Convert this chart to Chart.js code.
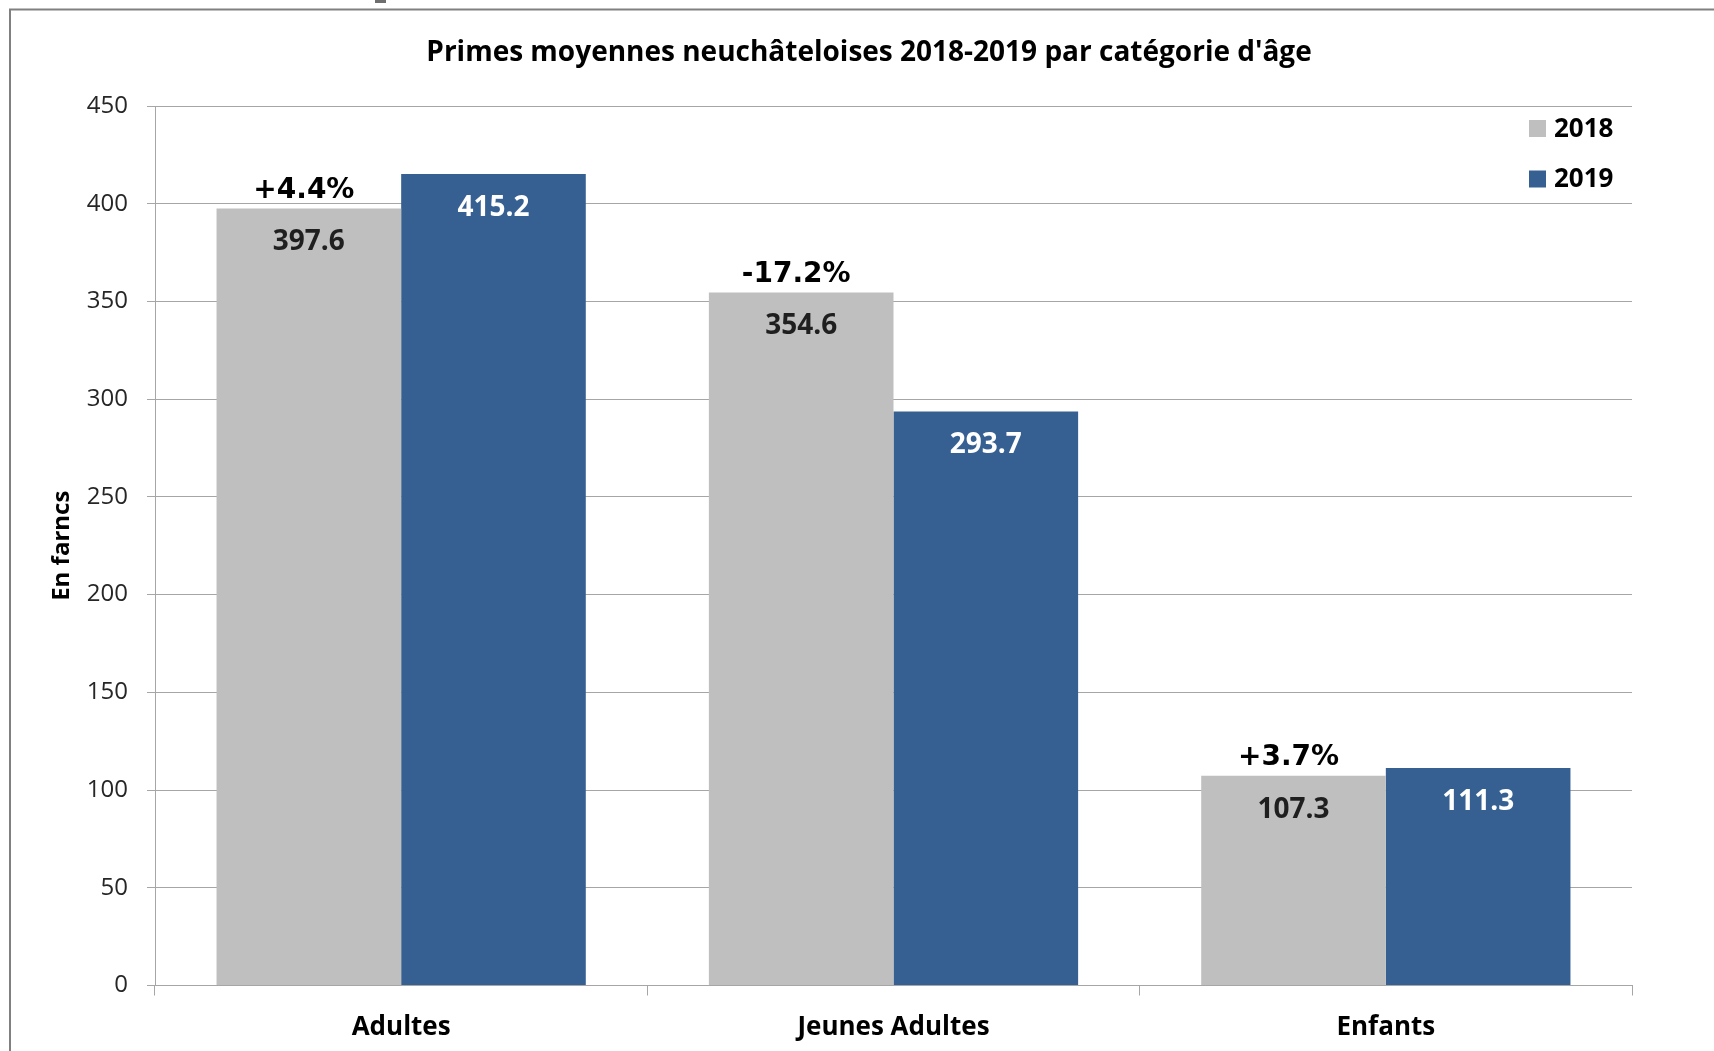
<!DOCTYPE html>
<html>
<head>
<meta charset="utf-8">
<title>Primes moyennes neuchâteloises 2018-2019</title>
<script src="https://cdn.jsdelivr.net/npm/chart.js@4.4.1/dist/chart.umd.min.js"></script>
<style>
  html, body { margin: 0; padding: 0; background: #fff; overflow: hidden; }
  #wrap { position: relative; width: 1714px; height: 1051px; }
</style>
</head>
<body>
<div id="wrap"><canvas id="chart"></canvas></div>
<script>
const chartTitle = "Primes moyennes neuchâteloises 2018-2019 par catégorie d'âge";
const yTitle = 'En farncs';
const categories = ['Adultes', 'Jeunes Adultes', 'Enfants'];
const primes2018 = [397.6, 354.6, 107.3];
const primes2019 = [415.2, 293.7, 111.3];
const changeLabels = ['+4.4%', '-17.2%', '+3.7%'];
const yTicks = [0, 50, 100, 150, 200, 250, 300, 350, 400, 450];

const FONT = '"Open Sans", "Liberation Sans", sans-serif';
const GRID = '#a6a6a6';

// white background, grey frame and title
const framePlugin = {
    id: 'frame',
    beforeDraw(chart) {
        const ctx = chart.ctx;
        ctx.save();
        ctx.fillStyle = '#fff';
        ctx.fillRect(0, 0, chart.width, chart.height);
        ctx.strokeStyle = '#808080';
        ctx.lineWidth = 2;
        ctx.beginPath();
        ctx.moveTo(10, chart.height);
        ctx.lineTo(10, 9.5);
        ctx.lineTo(chart.width, 9.5);
        ctx.stroke();
        ctx.fillStyle = '#6e6e6e';
        ctx.fillRect(375, 0, 11, 3);
        ctx.fillStyle = '#000';
        ctx.font = 'bold 28px ' + FONT;
        ctx.textAlign = 'center';
        ctx.textBaseline = 'middle';
        ctx.fillText(chartTitle, 869, 53);
        ctx.restore();
    }
};

// value labels inside bars, change labels above the 2018 bars
const labelPlugin = {
    id: 'barLabels',
    afterDatasetsDraw(chart) {
        const ctx = chart.ctx;
        ctx.save();
        ctx.textAlign = 'center';
        ctx.textBaseline = 'middle';
        ctx.font = 'bold 28px ' + FONT;
        chart.data.datasets.forEach((ds, di) => {
            const meta = chart.getDatasetMeta(di);
            ctx.fillStyle = di === 0 ? '#1f1f1f' : '#ffffff';
            meta.data.forEach((bar, i) => {
                ctx.fillText(ds.data[i].toFixed(1), bar.x, bar.y + 34);
            });
        });
        const meta0 = chart.getDatasetMeta(0);
        ctx.fillStyle = '#000';
        ctx.font = 'bold 28px "DejaVu Sans", sans-serif';
        meta0.data.forEach((bar, i) => {
            ctx.fillText(changeLabels[i], bar.x - 5, bar.y - 18);
        });
        ctx.restore();
    }
};

// legend drawn inside the plot, top right
const legendPlugin = {
    id: 'cornerLegend',
    afterDraw(chart) {
        const ctx = chart.ctx;
        ctx.save();
        ctx.font = 'bold 26px ' + FONT;
        ctx.textBaseline = 'middle';
        ctx.textAlign = 'left';
        chart.data.datasets.forEach((ds, i) => {
            const y = 128.5 + i * 50.5;
            ctx.fillStyle = ds.backgroundColor;
            ctx.fillRect(1529, y - 8.5, 17, 17);
            ctx.fillStyle = '#000';
            ctx.fillText(ds.label, 1554, y + 1);
        });
        ctx.restore();
    }
};

new Chart(document.getElementById('chart'), {
    type: 'bar',
    data: {
        labels: categories,
        datasets: [
            { label: '2018', data: primes2018, backgroundColor: '#bfbfbf' },
            { label: '2019', data: primes2019, backgroundColor: '#366092' }
        ]
    },
    options: {
        responsive: true,
        maintainAspectRatio: false,
        animation: false,
        categoryPercentage: 0.75,
        barPercentage: 1.0,
        layout: { padding: { top: 106, right: 82, bottom: 0, left: 0 } },
        plugins: {
            legend: { display: false },
            title: { display: false },
            tooltip: { enabled: false }
        },
        scales: {
            x: {
                grid: { drawOnChartArea: false, offset: true, color: GRID, tickLength: 10 },
                border: { color: GRID },
                ticks: { color: '#000', font: { family: FONT, size: 26, weight: 'bold' }, padding: 16 },
                afterFit(scale) { scale.height = 65.5; }
            },
            y: {
                min: 0,
                max: 450,
                afterBuildTicks(scale) { scale.ticks = yTicks.map(v => ({ value: v })); },
                grid: { color: GRID, tickLength: 8 },
                border: { color: GRID },
                ticks: { color: '#262626', font: { family: FONT, size: 24 }, padding: 19 },
                title: {
                    display: true,
                    text: yTitle,
                    color: '#000',
                    font: { family: FONT, size: 24, weight: 'bold' },
                    padding: { top: 48, bottom: 0 }
                },
                afterFit(scale) { scale.width = 155; }
            }
        }
    },
    plugins: [framePlugin, labelPlugin, legendPlugin]
});
</script>
</body>
</html>
